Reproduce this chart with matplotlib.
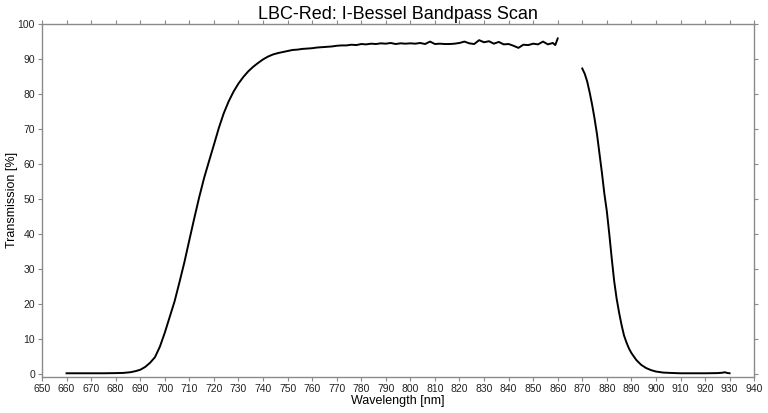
import numpy as np
import matplotlib
matplotlib.use("Agg")
import matplotlib.pyplot as plt

plt.rcParams['font.family'] = ['Liberation Sans', 'DejaVu Sans']

# rising edge + plateau (nm, %)
wl_blue = [660, 665, 670, 675, 680, 683, 686, 688, 690, 692, 694, 696, 698,
           700, 702, 704, 706, 708, 710, 712, 714, 716, 718, 720, 722, 724,
           726, 728, 730, 732, 734, 736, 738, 740, 742, 744, 746, 748, 750,
           752, 754, 756, 758, 760, 762, 764, 766, 768, 770, 772, 774, 776,
           778, 780, 782, 784, 786, 788, 790, 792, 794, 796, 798, 800, 802,
           804, 806, 808, 810, 812, 814, 816, 818, 820, 822, 824, 826, 828,
           830, 832, 834, 836, 838, 840, 842, 844, 846, 848, 850, 852, 854,
           856, 858, 859, 860]
tr_blue = [0.2, 0.2, 0.2, 0.2, 0.25, 0.3, 0.5, 0.8, 1.2, 2.0, 3.2, 4.8, 7.8,
           11.8, 16.3, 20.8, 26.3, 32.0, 38.3, 44.5, 50.5, 56.0, 60.8, 65.5,
           70.3, 74.5, 77.9, 80.7, 83.0, 84.9, 86.5, 87.8, 88.9, 89.9, 90.7,
           91.3, 91.7, 92.0, 92.3, 92.6, 92.7, 92.9, 93.0, 93.1, 93.3, 93.4,
           93.5, 93.6, 93.8, 93.9, 93.9, 94.1, 94.0, 94.3, 94.2, 94.4, 94.3,
           94.5, 94.4, 94.6, 94.3, 94.5, 94.4, 94.5, 94.4, 94.6, 94.3, 95.0,
           94.3, 94.4, 94.3, 94.3, 94.4, 94.6, 95.0, 94.5, 94.3, 95.4, 94.8,
           95.1, 94.4, 94.9, 94.2, 94.3, 93.8, 93.2, 94.1, 94.0, 94.4, 94.2,
           95.0, 94.2, 94.6, 94.0, 95.9]

# falling edge (nm, %)
wl_red = [870, 871, 872, 873, 874, 875, 876, 877, 878, 879, 880, 881, 882,
          883, 884, 885, 886, 887, 888, 889, 890, 892, 894, 896, 898, 900,
          903, 906, 910, 915, 920, 925, 927, 928, 929, 930]
tr_red = [87.3, 85.8, 83.6, 80.5, 77.0, 73.0, 68.5, 63.0, 57.5, 51.5, 46.5,
          40.0, 33.0, 26.5, 21.5, 17.5, 14.0, 11.0, 9.0, 7.3, 6.0, 4.0, 2.6,
          1.7, 1.1, 0.7, 0.4, 0.3, 0.2, 0.2, 0.2, 0.25, 0.35, 0.5, 0.3, 0.2]

fig = plt.figure(figsize=(7.68, 4.13), dpi=100)
ax = fig.add_axes([0.0547, 0.0877, 0.9273, 0.854])

ax.plot(wl_blue, tr_blue, color='black', lw=1.4)
ax.plot(wl_red, tr_red, color='black', lw=1.4)

ax.set_xlim(650, 940)
ax.set_ylim(-0.8, 100)
ax.set_xticks(np.arange(650, 941, 10))
ax.set_yticks(np.arange(0, 101, 10))

for s in ax.spines.values():
    s.set_color('#8a8a8a')
    s.set_linewidth(1.0)
ax.tick_params(which='both', direction='out', length=3, width=0.8,
               color='#8a8a8a', labelsize=7.5, labelcolor='#222222',
               top=True, right=True, pad=2)

ax.set_xlabel('Wavelength [nm]', fontsize=9, labelpad=1)
ax.set_ylabel('Transmission [%]', fontsize=9)
ax.yaxis.set_label_coords(-0.034, 0.5)
ax.set_title('LBC-Red: I-Bessel Bandpass Scan', fontsize=13, pad=4)

fig.savefig('out.png', dpi=100)
